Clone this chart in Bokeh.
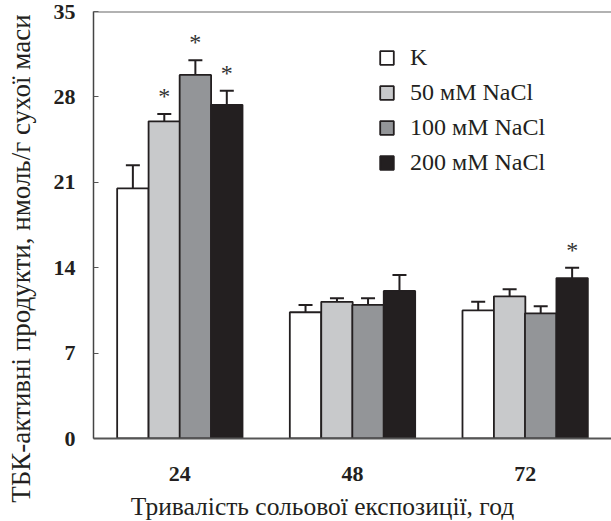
import math
from bokeh.plotting import figure
from bokeh.models import (ColumnDataSource, FactorRange, Range1d, FixedTicker, Whisker,
                          Span, Legend, LegendItem, TeeHead, Label)
from bokeh.transform import dodge
from bokeh.core.properties import value
from bokeh.embed import file_html
from bokeh.resources import INLINE

# ---- data ----
hours = ["24", "48", "72"]
series_names = ["K", "50 мМ NaCl", "100 мМ NaCl", "200 мМ NaCl"]
k_vals = [20.5, 10.35, 10.5]
k_err = [1.9, 0.6, 0.7]
n50_vals = [26.0, 11.2, 11.65]
n50_err = [0.6, 0.3, 0.58]
n100_vals = [29.8, 10.95, 10.25]
n100_err = [1.2, 0.55, 0.58]
n200_vals = [27.35, 12.1, 13.15]
n200_err = [1.15, 1.3, 0.85]
k_sig = [False, False, False]
n50_sig = [True, False, False]
n100_sig = [True, False, False]
n200_sig = [True, False, True]
y_ticks = [0, 7, 14, 21, 28, 35]
x_title = "Тривалість сольової експозиції, год"
y_title = "ТБК-активні продукти, нмоль/г сухої маси"

colors = ["#ffffff", "#c8c9cb", "#939598", "#231f20"]
offsets = [-0.272, -0.09, 0.09, 0.272]
bar_w = 0.182
FONT = "Liberation Serif"
DARK = "#231f20"

p = figure(x_range=FactorRange(*hours), y_range=Range1d(0, 35),
           width=611, height=521, output_backend="svg", toolbar_location=None,
           min_border_left=93, min_border_right=0, min_border_top=11, min_border_bottom=83)
p.outline_line_color = None
p.xgrid.visible = False
p.ygrid.visible = False
p.background_fill_color = "white"

all_vals = [k_vals, n50_vals, n100_vals, n200_vals]
all_errs = [k_err, n50_err, n100_err, n200_err]
all_sig = [k_sig, n50_sig, n100_sig, n200_sig]

legend_items = []
for name, vals, errs, sig, col, off in zip(series_names, all_vals, all_errs, all_sig, colors, offsets):
    src = ColumnDataSource(dict(
        x=hours, top=vals,
        upper=[v + e for v, e in zip(vals, errs)],
        lower=[v - e for v, e in zip(vals, errs)],
    ))
    r = p.vbar(x=dodge("x", off, range=p.x_range), top="top", width=bar_w, bottom=0,
               source=src, fill_color=col, line_color=DARK, line_width=1.8)
    legend_items.append(LegendItem(label=name, renderers=[r]))
    w = Whisker(base=dodge("x", off, range=p.x_range), upper="upper", lower="lower",
                source=src, line_color=DARK, line_width=2,
                upper_head=TeeHead(size=14, line_color=DARK, line_width=2),
                lower_head=TeeHead(size=14, line_color=DARK, line_width=2))
    p.add_layout(w)
    sx = [h for h, s in zip(hours, sig) if s]
    sy = [v + e for v, e, s in zip(vals, errs, sig) if s]
    if sx:
        ssrc = ColumnDataSource(dict(x=sx, y=sy, t=["*"] * len(sx)))
        p.text(x=dodge("x", off, range=p.x_range), y="y", text="t", source=ssrc,
               text_font=value(FONT), text_font_size="24px", text_color="#333333",
               text_align="center", text_baseline="alphabetic", y_offset=-18)

legend = Legend(items=legend_items, location=(285, 262), orientation="vertical",
                label_text_font=FONT, label_text_font_size="24px", label_text_color=DARK,
                glyph_width=17, glyph_height=17, label_standoff=15, spacing=8,
                padding=0, margin=0, border_line_color=None, background_fill_alpha=0)
p.add_layout(legend, "center")

# axes
p.yaxis.ticker = FixedTicker(ticks=y_ticks)
p.yaxis.major_tick_in = 5
p.yaxis.major_tick_out = 0
p.yaxis.minor_tick_line_color = None
p.yaxis.major_tick_line_color = "#555555"
p.yaxis.axis_line_color = "#444444"
p.yaxis.axis_line_width = 1.5
p.yaxis.major_label_text_font = FONT
p.yaxis.major_label_text_font_style = "bold"
p.yaxis.major_label_text_font_size = "22px"
p.yaxis.major_label_text_color = DARK
p.yaxis.major_label_standoff = 18

p.xaxis.major_tick_line_color = None
p.xaxis.minor_tick_line_color = None
p.xaxis.axis_line_color = "#555555"
p.xaxis.axis_line_width = 2
p.xaxis.major_label_text_font = FONT
p.xaxis.major_label_text_font_style = "bold"
p.xaxis.major_label_text_font_size = "22px"
p.xaxis.major_label_text_color = DARK
p.xaxis.major_label_standoff = 22

p.add_layout(Span(location=35, dimension="width", line_color="#666666", line_width=2))

p.add_layout(Label(x=229, y=6, x_units="screen", y_units="screen", text=x_title,
                   text_font=FONT, text_font_size="25.5px", text_color=DARK,
                   text_align="center", text_baseline="alphabetic"), "below")
p.add_layout(Label(x=0, y=180, x_units="screen", y_units="screen", text=y_title,
                   angle=math.pi / 2, text_font=FONT, text_font_size="27px", text_color=DARK,
                   text_align="center", text_baseline="alphabetic"), "left")

open("out.html", "w").write(file_html(p, INLINE))
